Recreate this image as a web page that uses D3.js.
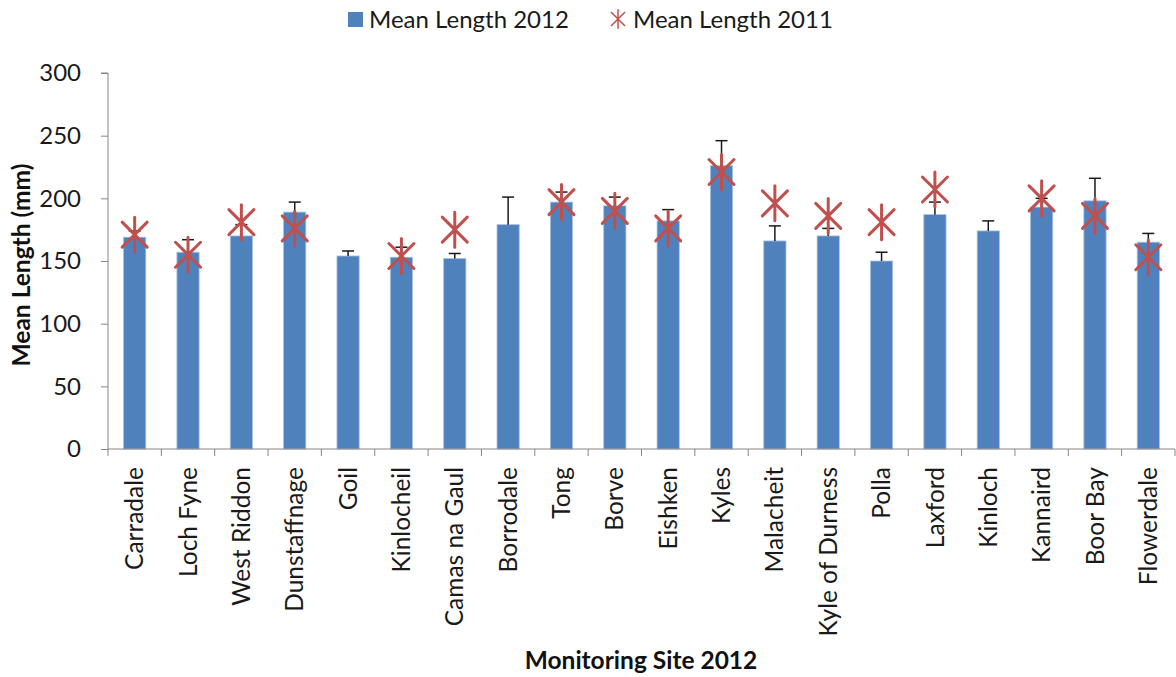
<!DOCTYPE html>
<html>
<head>
<meta charset="utf-8">
<script src="https://cdn.jsdelivr.net/npm/d3@7"></script>
<style>
  html, body { margin: 0; padding: 0; background: #fff; }
  svg { display: block; font-family: Lato, "Open Sans", sans-serif; }
</style>
</head>
<body>
<svg id="chart" width="1176" height="677"></svg>
<script>
const sites = ["Carradale","Loch Fyne","West Riddon","Dunstaffnage","Goil","Kinlocheil","Camas na Gaul","Borrodale","Tong","Borve","Eishken","Kyles","Malacheit","Kyle of Durness","Polla","Laxford","Kinloch","Kannaird","Boor Bay","Flowerdale"];
const mean2012 = [169, 157, 170, 189, 154, 153, 152, 179, 197, 194, 182, 226, 166, 170, 150, 187, 174, 193, 198, 165];
const errorPlus = [5, 10, 9, 8, 4, 8, 4, 22, 8, 7, 9, 20, 12, 6, 7, 10, 8, 7, 18, 7];
const mean2011 = [171, 155, 181, 176, null, 154, 175, null, 197, 190, 176, 221, 196, 186, 181, 207, null, 200, 186, 153];
const yTicks = [0, 50, 100, 150, 200, 250, 300];
const seriesNames = ["Mean Length 2012", "Mean Length 2011"];
const xTitle = "Monitoring Site 2012";
const yTitle = "Mean Length (mm)";

const barColor = "#4F81BD", starColor = "#C0504D", axisColor = "#868686";
const svg = d3.select("#chart");
const plot = {left: 108, right: 1175, top: 73, bottom: 449};

const x = d3.scaleBand().domain(sites).range([plot.left, plot.right]).paddingInner(1.4/2.4).paddingOuter(0.7/2.4);
const xb = d3.scaleBand().domain(sites).range([plot.left, plot.right]);
const y = d3.scaleLinear().domain([0, 300]).range([plot.bottom, plot.top]);

// bars
svg.append("g").selectAll("rect").data(sites).join("rect")
  .attr("x", d => x(d)).attr("width", x.bandwidth())
  .attr("y", (d, i) => y(mean2012[i])).attr("height", (d, i) => y(0) - y(mean2012[i]))
  .attr("fill", barColor).attr("stroke", "#a9c0de").attr("stroke-width", 0.8);

// error bars (plus only)
const eg = svg.append("g").attr("stroke", "#1a1a1a").attr("stroke-width", 1.5);
sites.forEach((s, i) => {
  const cx = xb(s) + xb.bandwidth() / 2;
  const top = y(mean2012[i] + errorPlus[i]);
  eg.append("line").attr("x1", cx).attr("x2", cx).attr("y1", y(mean2012[i])).attr("y2", top);
  eg.append("line").attr("x1", cx - 6).attr("x2", cx + 6).attr("y1", top).attr("y2", top);
});

// y axis
const yAxis = d3.axisLeft(y).tickValues(yTicks).tickSize(7).tickPadding(20);
const ya = svg.append("g").attr("transform", `translate(${plot.left},0)`).call(yAxis);
ya.select(".domain").attr("stroke", axisColor).attr("d", `M-7,${plot.top}H0V${plot.bottom}`);
ya.selectAll(".tick line").attr("stroke", axisColor);
ya.selectAll(".tick text").attr("font-family", "Lato").attr("font-size", 24).attr("fill", "#1a1a1a");

// x axis
const xa = svg.append("g").attr("transform", `translate(0,${plot.bottom})`);
xa.append("line").attr("x1", plot.left).attr("x2", plot.right).attr("stroke", axisColor);
const bounds = sites.map(s => xb(s)).concat([plot.right]);
xa.selectAll(".tk").data(bounds).join("line").attr("class", "tk")
  .attr("x1", d => d).attr("x2", d => d).attr("y1", 0).attr("y2", 7).attr("stroke", axisColor);
xa.selectAll(".lbl").data(sites).join("text").attr("class", "lbl")
  .attr("transform", d => `translate(${xb(d) + xb.bandwidth() / 2},18) rotate(-90)`)
  .attr("text-anchor", "end").attr("dy", "0.35em")
  .attr("font-size", 24.5).attr("fill", "#1a1a1a").text(d => d);

// stars
function starPath(r) {
  return `M${-r},${-r}L${r},${r}M${-r},${r}L${r},${-r}M0,${-r * 1.4}L0,${r * 1.4}`;
}
svg.append("g").selectAll("path").data(sites.map((s, i) => ({s, v: mean2011[i]})).filter(d => d.v != null))
  .join("path")
  .attr("transform", d => `translate(${xb(d.s) + xb.bandwidth() / 2},${y(d.v)})`)
  .attr("d", starPath(12.5)).attr("stroke", starColor).attr("stroke-width", 3).attr("fill", "none")
  .attr("stroke-linecap", "round");

// titles
svg.append("text").attr("x", 641).attr("y", 669).attr("text-anchor", "middle")
  .attr("font-weight", "bold").attr("font-size", 24.5).attr("fill", "#111").text(xTitle);
svg.append("text").attr("transform", `translate(30,${(plot.top + plot.bottom) / 2 + 4}) rotate(-90)`)
  .attr("text-anchor", "middle").attr("font-weight", "bold").attr("font-size", 24.5).attr("fill", "#111").text(yTitle);

// legend
const lg = svg.append("g");
lg.append("rect").attr("x", 348).attr("y", 12).attr("width", 15).attr("height", 15).attr("fill", barColor);
lg.append("text").attr("x", 369).attr("y", 28).attr("font-size", 24).attr("fill", "#1a1a1a").text(seriesNames[0]);
lg.append("path").attr("transform", "translate(618,19)").attr("d", starPath(7))
  .attr("stroke", starColor).attr("stroke-width", 1.5).attr("fill", "none");
lg.append("text").attr("x", 633).attr("y", 28).attr("font-size", 24).attr("fill", "#1a1a1a").text(seriesNames[1]);
</script>
</body>
</html>
